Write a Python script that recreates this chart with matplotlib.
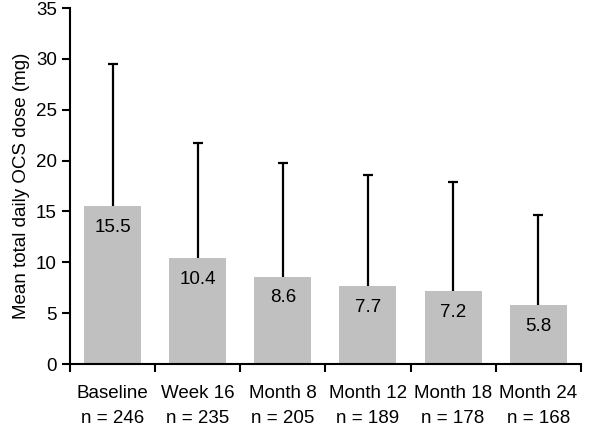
import numpy as np
import matplotlib.pyplot as plt

plt.rcParams['font.family'] = ['Liberation Sans', 'DejaVu Sans']

# Data
visits = ["Baseline", "Week 16", "Month 8", "Month 12", "Month 18", "Month 24"]
n_patients = [246, 235, 205, 189, 178, 168]
mean_dose = [15.5, 10.4, 8.6, 7.7, 7.2, 5.8]
sd_dose = [14.0, 11.3, 11.2, 10.9, 10.7, 8.9]

labels = [f"{v}\nn = {n}" for v, n in zip(visits, n_patients)]
x = np.arange(len(visits))

fig = plt.figure(figsize=(6.0, 4.26), dpi=100)
ax = fig.add_axes([0.1167, 0.1455, 0.8513, 0.8355])

ax.bar(x, mean_dose, width=0.67, color='#c0c0c0', zorder=2)
eb = ax.errorbar(x, mean_dose, yerr=[np.zeros(len(x)), sd_dose], fmt='none',
                 ecolor='black', elinewidth=1.6, capsize=3.5, capthick=1.6, zorder=3)
# hide the lower caps (only the upper SD is drawn)
eb[1][0].set_visible(False)

for xi, m in zip(x, mean_dose):
    ax.text(xi, m - 2.1, f"{m}", ha='center', va='center', fontsize=13.5, zorder=4)

ax.set_xlim(-0.5, len(x) - 0.5)
ax.set_ylim(0, 35)
ax.set_yticks(np.arange(0, 36, 5))
ax.set_xticks(np.arange(-0.5, len(x), 1.0))
ax.set_xticklabels([])
ax.set_xticks(x, minor=True)
ax.set_xticklabels(labels, minor=True, fontsize=13.5, linespacing=1.6)
ax.tick_params(axis='x', which='minor', length=0, pad=15)
ax.tick_params(axis='x', which='major', length=6, width=1.5, direction='out')
ax.tick_params(axis='y', length=6, width=1.5, direction='out', labelsize=13.5)

ax.set_ylabel("Mean total daily OCS dose (mg)", fontsize=13.5)

for s in ['top', 'right']:
    ax.spines[s].set_visible(False)
for s in ['left', 'bottom']:
    ax.spines[s].set_linewidth(1.5)

fig.savefig("out.png", dpi=100)
